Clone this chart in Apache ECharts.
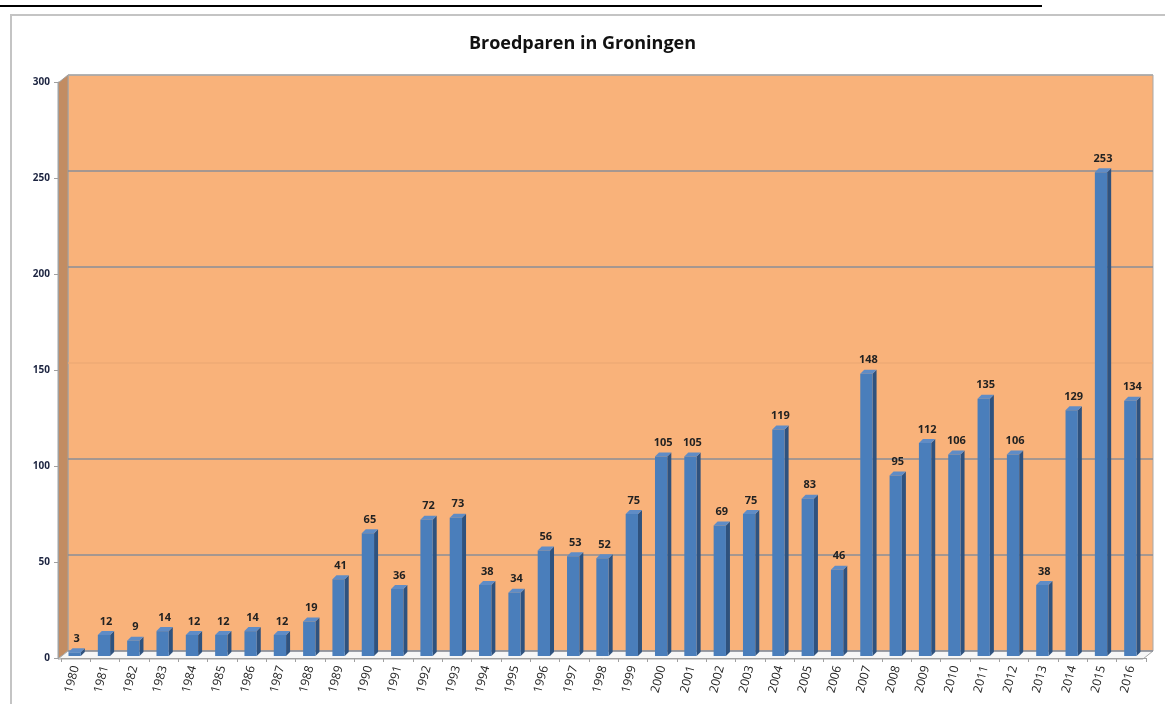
<!DOCTYPE html>
<html>
<head>
<meta charset="utf-8">
<script src="https://cdn.jsdelivr.net/npm/echarts@6/dist/echarts.min.js"></script>
<style>html,body{margin:0;padding:0;background:#fff}#c{width:1165px;height:704px}</style>
</head>
<body>
<div id="c"></div>
<script>
const years = ['1980','1981','1982','1983','1984','1985','1986','1987','1988','1989','1990','1991','1992','1993','1994','1995','1996','1997','1998','1999','2000','2001','2002','2003','2004','2005','2006','2007','2008','2009','2010','2011','2012','2013','2014','2015','2016'];
const pairs = [3,12,9,14,12,12,14,12,19,41,65,36,72,73,38,34,56,53,52,75,105,105,69,75,119,83,46,148,95,112,106,135,106,38,129,253,134];
const yTicks = [0,50,100,150,200,250,300];
const titleText = 'Broedparen in Groningen';

const chart = echarts.init(document.getElementById('c'), null, {renderer:'canvas'});
const DX = 4, DY = -4;
chart.setOption({
  animation:false,
  backgroundColor:'#fff',
  title:{text:titleText,left:'center',top:30,textStyle:{fontFamily:'Open Sans',fontSize:18,fontWeight:'bold',color:'#111'}},
  graphic:[
    {type:'line',shape:{x1:0,y1:6,x2:1042,y2:6},style:{stroke:'#000',lineWidth:2},z:10},
    {type:'line',shape:{x1:10,y1:15,x2:1165,y2:15},style:{stroke:'#c4c4c4',lineWidth:2},z:10},
    {type:'line',shape:{x1:11,y1:15,x2:11,y2:704},style:{stroke:'#c4c4c4',lineWidth:2},z:10},
    {type:'polygon',shape:{points:[[58,83],[68,75],[68,651],[58,659]]},style:{fill:'#C28C62',stroke:'#a0a0a0',lineWidth:1},z:-1},
    {type:'polygon',shape:{points:[[58,659],[68,651],[1153,651],[1143,659]]},style:{fill:'#f6f6f6',stroke:'#a8a8a8',lineWidth:1},z:-1}
  ],
  grid:[
    {left:68,top:75,right:12,bottom:53,show:true,backgroundColor:'#F9B27A',borderColor:'#a8a8a8',borderWidth:1,z:-2},
    {left:61,top:82,right:19,bottom:46}
  ],
  xAxis:[
    {gridIndex:0,type:'category',data:years,show:false},
    {gridIndex:1,type:'category',data:years,
     axisLine:{show:true,lineStyle:{color:'#a0a0a0'}},
     axisTick:{show:true,length:4,lineStyle:{color:'#a0a0a0'}},
     axisLabel:{rotate:75,margin:8,fontFamily:'Open Sans',fontSize:12,color:'#222',interval:0}}
  ],
  yAxis:[
    {gridIndex:0,type:'value',min:0,max:300,interval:50,
     axisLabel:{show:false},axisLine:{show:false},axisTick:{show:false},
     splitLine:{show:true,lineStyle:{color:['#8a8e98','#8a8e98','#8a8e98','#eeaa76','#8a8e98','#8a8e98','#a8a8a8'],width:1.5}}},
    {gridIndex:1,type:'value',min:0,max:300,interval:50,offset:3,
     axisLine:{show:true,lineStyle:{color:'#a0a0a0'}},
     axisTick:{show:true,length:4,lineStyle:{color:'#a0a0a0'}},
     splitLine:{show:false},
     axisLabel:{margin:8,fontFamily:'Open Sans',fontSize:10,fontWeight:'bold',color:'#1c2440'}}
  ],
  series:[{
    type:'custom',xAxisIndex:1,yAxisIndex:1,
    data:pairs.map((v,i)=>[i,v]),
    renderItem:function(params,api){
      const i=api.value(0), v=api.value(1);
      const p0=api.coord([i,0]), p1=api.coord([i,v]);
      const bw=api.size([1,0])[0]*0.42;
      const x0=p0[0]-bw/2-1, x1=x0+bw;
      const yb=p0[1]-2, yt=p1[1];
      return {type:'group',children:[
        {type:'polygon',shape:{points:[[x1,yt],[x1+DX,yt+DY],[x1+DX,yb+DY],[x1,yb]]},style:{fill:'#2F527E'}},
        {type:'polygon',shape:{points:[[x0,yt],[x0+DX,yt+DY],[x1+DX,yt+DY],[x1,yt]]},style:{fill:'#5F8CC6'}},
        {type:'rect',shape:{x:x0,y:yt,width:bw,height:yb-yt},style:{fill:'#4A7EBB'}},
        {type:'text',style:{text:String(v),x:(x0+x1+DX)/2,y:yt+DY-4,align:'center',verticalAlign:'bottom',
          font:'bold 11px "Open Sans"',fill:'#222'}}
      ]};
    }
  }]
});
</script>
</body>
</html>
